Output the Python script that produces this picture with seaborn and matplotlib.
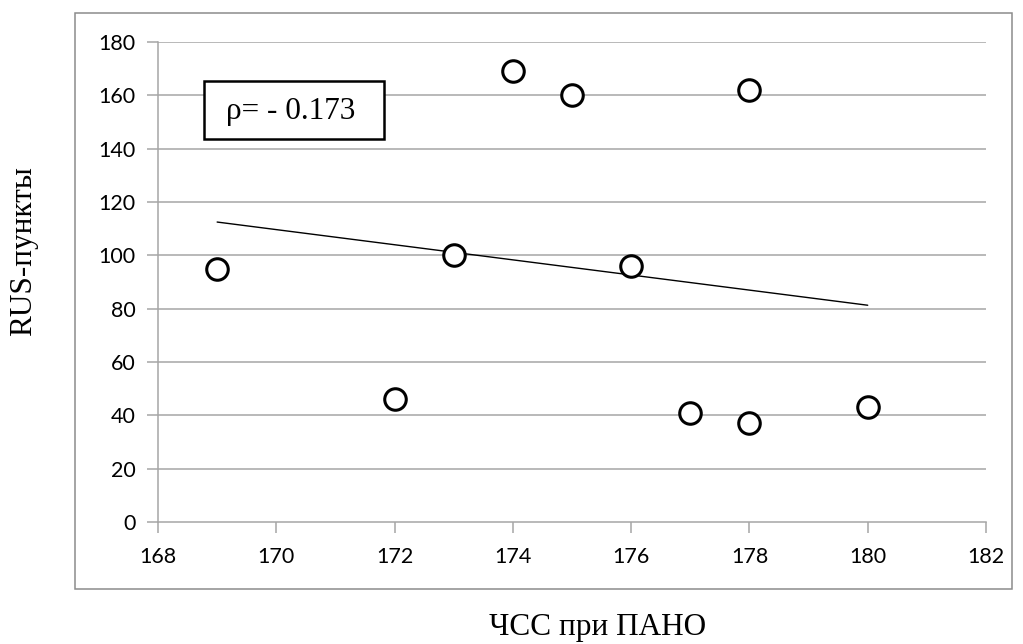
import numpy as np
import pandas as pd
import matplotlib
matplotlib.use("Agg")
import matplotlib.pyplot as plt
from matplotlib.patches import Rectangle
import seaborn as sns

# ЧСС при ПАНО vs RUS-пункты
hr_pano = [169, 172, 173, 174, 175, 176, 177, 178, 178, 180]
rus_points = [95, 46, 100, 169, 160, 96, 41, 162, 37, 43]
rho_text = "ρ= - 0.173"
x_ticks = [168, 170, 172, 174, 176, 178, 180, 182]
y_ticks = [0, 20, 40, 60, 80, 100, 120, 140, 160, 180]

df = pd.DataFrame({"hr": hr_pano, "rus": rus_points})

sns.set_theme(style="white")
plt.rcParams["font.family"] = ["Lato", "DejaVu Sans"]
plt.rcParams["text.color"] = "black"
serif = ["Liberation Serif", "DejaVu Serif"]

fig = plt.figure(figsize=(10.23, 6.44), dpi=100)
ax = fig.add_axes([158 / 1023, 1 - 522 / 644, 828 / 1023, 480 / 644])

grid_c = "#a6a6a6"
for yv in y_ticks[1:]:
    ax.axhline(yv, color=grid_c, lw=1.1, zorder=0)

# linear trend line over the data range
sns.regplot(data=df, x="hr", y="rus", ax=ax, ci=None, scatter=False, truncate=True,
            line_kws=dict(color="black", lw=1.0, zorder=2))

sns.scatterplot(data=df, x="hr", y="rus", ax=ax, s=240, marker="o",
                facecolor="white", edgecolor="black", linewidth=2.2, zorder=3)

ax.set_xlim(168, 182)
ax.set_ylim(0, 180)
ax.set_xticks(x_ticks)
ax.set_yticks(y_ticks)
ax.set_xticklabels([str(v) for v in x_ticks], fontsize=15.5, color="black")
ax.set_yticklabels([str(v) for v in y_ticks], fontsize=15.5, color="black")
ax.tick_params(axis="x", direction="out", length=8, width=1.1, color=grid_c, pad=10, bottom=True)
ax.tick_params(axis="y", direction="out", length=8, width=1.1, color=grid_c, pad=8, left=True)
ax.set_xlabel("")
ax.set_ylabel("")
for side in ["top", "right"]:
    ax.spines[side].set_visible(False)
for side in ["left", "bottom"]:
    ax.spines[side].set_color(grid_c)
    ax.spines[side].set_linewidth(1.1)

# outer chart frame
fig.patches.append(Rectangle((75 / 1023, 1 - 589 / 644), 937 / 1023, 576 / 644,
                             transform=fig.transFigure, fill=False,
                             edgecolor="#8c8c8c", lw=1.1))

# correlation box
fig.patches.append(Rectangle((204 / 1023, 1 - 139 / 644), 180 / 1023, 58 / 644,
                             transform=fig.transFigure, fill=True, facecolor="white",
                             edgecolor="black", lw=1.8, zorder=5))
fig.text(291 / 1023, 1 - 111 / 644, rho_text, ha="center", va="center",
         fontsize=22.5, family=serif, color="black", zorder=6)

fig.text(598 / 1023, 1 - 627 / 644, "ЧСС при ПАНО", ha="center", va="center",
         fontsize=22.5, family=serif, color="black")
fig.text(24 / 1023, 1 - 251 / 644, "RUS-пункты", ha="center", va="center",
         rotation=90, fontsize=22.5, family=serif, color="black")

fig.savefig("out.png", dpi=100)
